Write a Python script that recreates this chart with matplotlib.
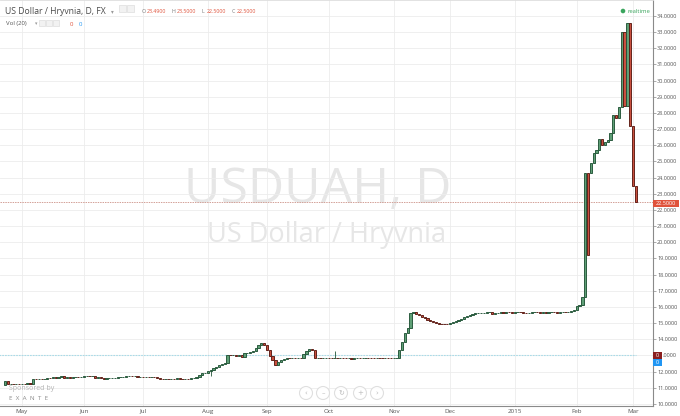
import matplotlib
matplotlib.use("Agg")
import matplotlib.pyplot as plt
from matplotlib.patches import Circle, Rectangle

plt.rcParams['font.family'] = ['Open Sans', 'DejaVu Sans']

# дневные закрытия USD/UAH по месяцам (торговые дни)
close_apr = [11.42, 11.22, 11.24, 11.22, 11.25, 11.23]
close_may = [11.26, 11.24, 11.27, 11.25, 11.53, 11.52, 11.55, 11.53, 11.56, 11.63, 11.61,
             11.64, 11.62, 11.65, 11.75, 11.63, 11.65, 11.62, 11.64, 11.66, 11.64, 11.66]
close_jun = [11.72, 11.74, 11.72, 11.73, 11.63, 11.64, 11.62, 11.53, 11.58, 11.60, 11.61,
             11.63, 11.65, 11.66, 11.69, 11.72, 11.73, 11.72, 11.74, 11.66, 11.67]
close_jul = [11.65, 11.67, 11.66, 11.67, 11.65, 11.60, 11.57, 11.56, 11.57, 11.55, 11.57,
             11.56, 11.58, 11.56, 11.55, 11.57, 11.56, 11.58, 11.60, 11.69, 11.80, 11.90, 11.94]
close_aug = [12.02, 12.10, 12.20, 12.31, 12.41, 12.48, 12.56, 13.03, 13.00, 13.02, 12.99,
             13.03, 12.89, 13.13, 13.15, 13.24, 13.30, 13.44, 13.62, 13.75, 13.65]
close_sep = [13.34, 12.97, 12.70, 12.41, 12.62, 12.72, 12.80, 12.83, 12.82, 12.84, 12.83,
             12.85, 12.84, 13.10, 13.30, 13.38, 13.37, 12.83, 12.84, 12.82, 12.83, 12.85]
close_oct = [12.83, 12.82, 12.84, 12.83, 12.85, 12.84, 12.82, 12.83, 12.81, 12.83, 12.84,
             12.82, 12.83, 12.85, 12.84, 12.83, 12.82, 12.84, 12.83, 12.82, 12.84, 12.83, 12.82]
close_nov = [12.83, 12.85, 13.34, 13.85, 14.37, 14.68, 15.65, 15.68, 15.57, 15.48, 15.40,
             15.31, 15.20, 15.12, 15.05, 15.00, 14.97, 14.95, 14.93, 14.92]
close_dec = [14.98, 15.05, 15.12, 15.20, 15.28, 15.38, 15.45, 15.50, 15.55, 15.60, 15.62,
             15.64, 15.65, 15.66, 15.66, 15.57, 15.60, 15.65, 15.66, 15.65, 15.67, 15.66, 15.65]
close_jan = [15.66, 15.67, 15.66, 15.65, 15.62, 15.65, 15.66, 15.67, 15.66, 15.64, 15.66,
             15.65, 15.66, 15.67, 15.66, 15.65, 15.66, 15.67, 15.66, 15.68, 15.75, 15.81]
close_feb = [16.06, 16.12, 16.64, 24.27, 19.21, 24.88, 25.50, 25.68, 26.37, 26.02, 26.20,
             26.35, 26.78, 27.86, 27.66, 28.35, 33.03, 28.40, 33.55, 27.20]
close_mar = [23.49, 22.50]

# открытие = предыдущее закрытие, кроме этих баров
open_override = {0: 11.17, 208: 24.27}
high_override = {117: 13.30, 224: 23.50}
low_override = {73: 11.75}

month_labels = ['May', 'Jun', 'Jul', 'Aug', 'Sep', 'Oct', 'Nov', 'Dec', '2015', 'Feb', 'Mar']
month_bar_idx = [6, 28, 49, 72, 93, 115, 138, 158, 181, 203, 223]

last_price = 22.5
vol_line = 13.0

closes = (close_apr + close_may + close_jun + close_jul + close_aug + close_sep +
          close_oct + close_nov + close_dec + close_jan + close_feb + close_mar)

fig = plt.figure(figsize=(6.8, 4.16), dpi=100, facecolor='white')

# фон с водяным знаком
bg = fig.add_axes([0, 0, 1, 1], zorder=0)
bg.set_xlim(0, 680); bg.set_ylim(416, 0); bg.axis('off')
bg.text(318, 203, 'USDUAH, D', fontsize=36, color='#e6e6e6', ha='center', va='baseline')
bg.text(327, 242, 'US Dollar / Hryvnia', fontsize=19.5, color='#e6e6e6', ha='center', va='baseline')

ax = fig.add_axes([0, 10 / 416, 653 / 680, 406 / 416], zorder=1)
ax.set_facecolor('none')

up_fill, up_edge = '#5f9f76', '#225437'
dn_fill, dn_edge = '#c9503f', '#5b1a13'

prev = closes[0]
for i, c in enumerate(closes):
    o = open_override.get(i, prev)
    hi = high_override.get(i, max(o, c))
    lo = low_override.get(i, min(o, c))
    up = c >= o
    fill, edge = (up_fill, up_edge) if up else (dn_fill, dn_edge)
    if hi > max(o, c) or lo < min(o, c):
        ax.vlines(i, lo, hi, color=edge, lw=0.6, zorder=2)
    ax.bar(i, c - o, bottom=o, width=0.8, color=fill, edgecolor=edge, linewidth=0.65, zorder=3)
    prev = c

ax.axhline(last_price, color='#d3a097', lw=0.7, ls=(0, (1.5, 1)), zorder=1.5)
ax.hlines(vol_line, -2, 224, color='#a9dbe8', lw=0.8, ls=(0, (1.5, 1)), zorder=1.5)

ax.set_xlim(-1.81, 230.08)
ax.set_ylim(9.876, 34.985)

ax.set_xticks(month_bar_idx)
ax.set_xticklabels(month_labels)
ax.set_yticks(range(10, 35))
# метка 13 закрыта плашками объёма — видна только её хвостовая часть
ax.set_yticklabels(['' if v == 13 else f'{v:.4f}' for v in range(10, 35)])
ax.yaxis.tick_right()
ax.tick_params(axis='y', length=2, width=0.5, color='#888888', labelsize=4, labelcolor='#555555', pad=1)
ax.tick_params(axis='x', length=0, labelsize=4.5, labelcolor='#555555', pad=2)
ax.grid(color='#ececec', lw=0.6)
ax.set_axisbelow(True)
for s in ['right', 'bottom']:
    ax.spines[s].set_color('#8a8a8a')
    ax.spines[s].set_linewidth(0.8)
ax.spines['top'].set_color('#dddddd')
ax.spines['top'].set_linewidth(0.6)
ax.spines['left'].set_visible(False)

# верхний слой: легенда, метки цены, кнопки
ov = fig.add_axes([0, 0, 1, 1], zorder=5)
ov.set_xlim(0, 680); ov.set_ylim(416, 0); ov.axis('off')

ov.text(5, 14, 'US Dollar / Hryvnia, D, FX', fontsize=6.2, color='#4a4a4a', va='baseline')
ov.text(111, 13.5, '▾', fontsize=4, color='#999999', va='baseline')
for x0 in [119, 127]:
    ov.add_patch(Rectangle((x0, 5), 6.5, 6.5, facecolor='#f2f2f2', edgecolor='#dddddd', lw=0.5))
for lx, lab, val in [(142, 'O', '23.4900'), (172, 'H', '23.5000'),
                     (202, 'L', '22.5000'), (232, 'C', '22.5000')]:
    ov.text(lx, 13, lab, fontsize=3.8, color='#777777', va='baseline')
    ov.text(lx + 4.5, 13, val, fontsize=3.8, color='#e0533c', va='baseline')

ov.text(6, 25.5, 'Vol (20)', fontsize=4.3, color='#555555', va='baseline')
ov.text(35, 25, '▾', fontsize=3.5, color='#999999', va='baseline')
for x0 in [39, 46, 53]:
    ov.add_patch(Rectangle((x0, 20), 6, 6, facecolor='#f2f2f2', edgecolor='#dddddd', lw=0.5))
ov.text(70, 25.5, '0', fontsize=4.3, color='#e0533c', va='baseline')
ov.text(79, 25.5, '0', fontsize=4.3, color='#2196f3', va='baseline')

ov.add_patch(Circle((623, 11), 1.6, color='#3aa55d'))
ov.text(627, 12.8, 'realtime', fontsize=4.2, color='#3aa55d', va='baseline')

ov.add_patch(Rectangle((653, 199.5), 26, 7.5, facecolor='#e0533c', edgecolor='none'))
ov.text(666, 203.4, '22.5000', fontsize=4, color='white', ha='center', va='center')
ov.add_patch(Rectangle((653, 352), 9, 6.5, facecolor='#8b1e1e', edgecolor='none'))
ov.text(657.5, 355.3, '0', fontsize=4, color='white', ha='center', va='center')
ov.text(663, 355.8, '.0000', fontsize=4, color='#555555', ha='left', va='center')
ov.add_patch(Rectangle((653, 359), 9, 6.5, facecolor='#2196f3', edgecolor='none'))
ov.text(657.5, 362.3, '0', fontsize=4, color='white', ha='center', va='center')

ov.text(9, 390, 'Sponsored by', fontsize=5, color='#b3b3b3', va='baseline')
ov.text(9, 399.5, 'E  X  A  N  T  E', fontsize=4.5, color='#8c8c8c', va='baseline')

for cx, sym in zip([306, 323, 341, 360, 377], ['‹', '–', '↻', '+', '›']):
    ov.add_patch(Circle((cx, 393), 6.5, facecolor='white', edgecolor='#dcdcdc', lw=0.8, alpha=0.9))
    ov.text(cx, 393.3, sym, fontsize=5, color='#bbbbbb', ha='center', va='center',
            family=['DejaVu Sans'])

fig.savefig('out.png', dpi=100, facecolor='white')
